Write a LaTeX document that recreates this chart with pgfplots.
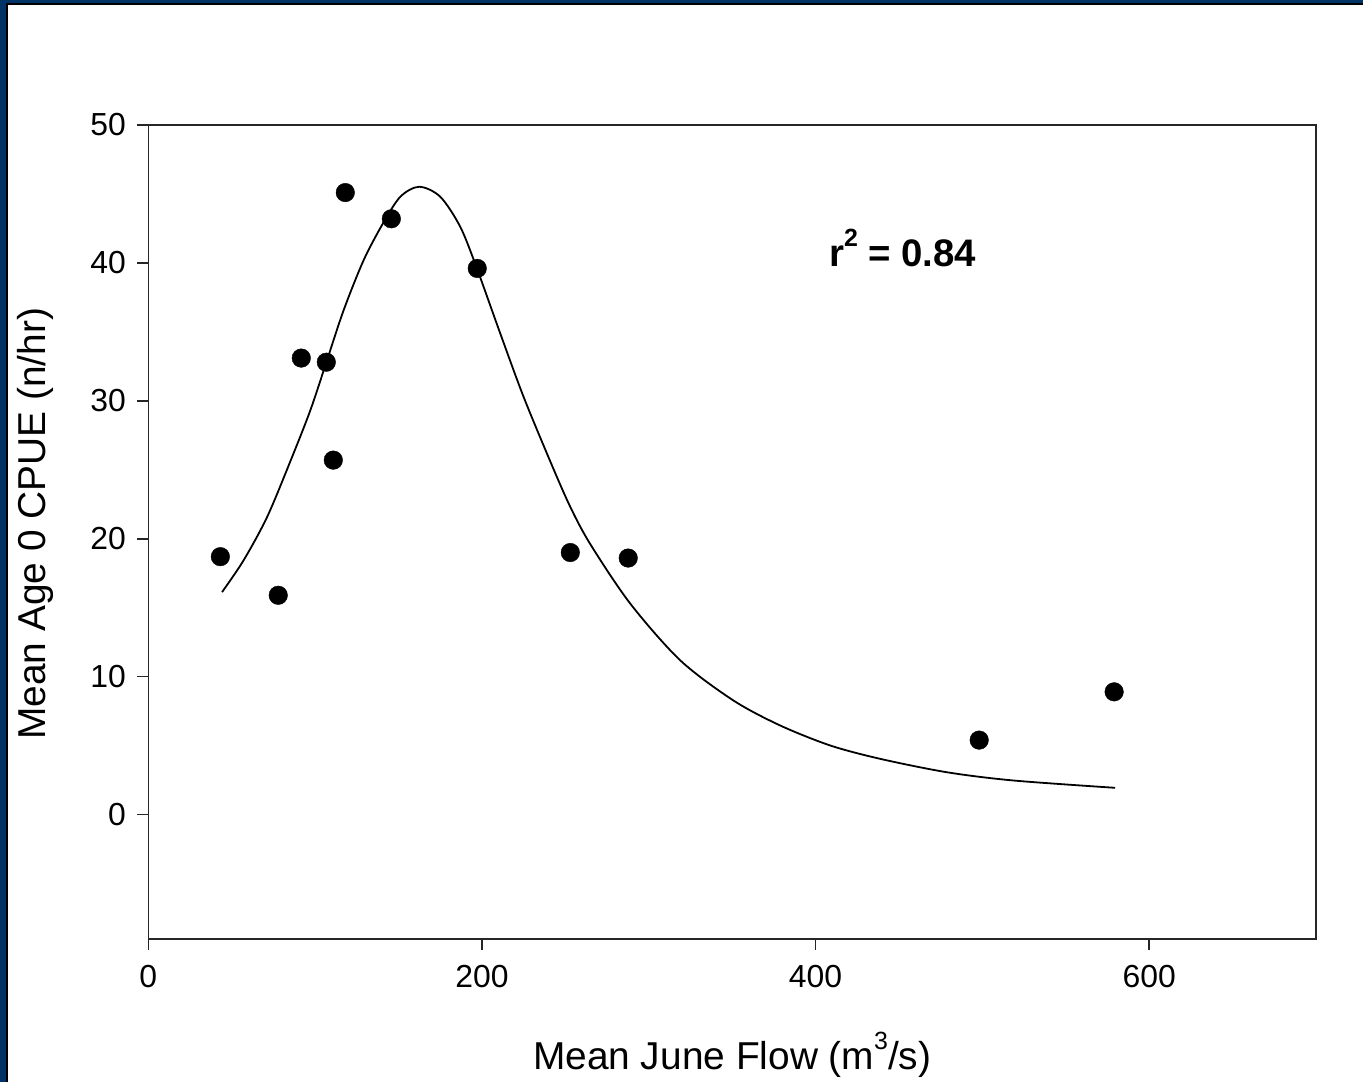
\documentclass[border=0pt]{standalone}
\usepackage{fontspec}
\setmainfont{Liberation Sans}
\usepackage{pgfplots}
\pgfplotsset{compat=1.18}
\definecolor{frameblue}{RGB}{0,51,102}
\pgfplotstableread{
x y
43.2 18.7
77.9 15.9
91.7 33.1
106.7 32.8
110.9 25.7
118.1 45.1
145.7 43.2
197.2 39.6
253.0 19.0
287.7 18.6
498.1 5.4
579.0 8.9
}\obsdata
\pgfplotstableread{
x y
44.2 16.13
57.1 18.43
71.2 21.57
85.1 25.60
97.1 29.30
106.7 32.78
117.1 36.57
129.1 40.20
140.7 42.87
151.1 44.80
162.4 45.52
175.0 44.80
187.0 42.62
197.0 39.60
211.0 34.88
225.0 30.28
241.0 25.60
253.0 22.30
265.0 19.60
288.9 15.30
318.9 11.18
350.8 8.27
378.8 6.46
408.8 5.01
438.8 4.04
478.7 3.07
518.7 2.47
579.6 1.94
}\fitdata
\newcommand{\mysup}[2]{\raisebox{0.52em}{\fontsize{#1}{#1}\selectfont #2}}
\begin{document}
\begin{tikzpicture}[x=1bp,y=1bp]
\useasboundingbox (0,0) rectangle (1363,1082);
\fill[frameblue] (0,0) rectangle (1363,1082);
\fill[black] (6,0) rectangle (1363,1079);
\fill[white] (8,0) rectangle (1363,1077);
\begin{axis}[
  at={(148.3bp,143.3bp)}, anchor=south west,
  width=1167.7bp, height=813.7bp, scale only axis,
  xmin=0, xmax=700, ymin=-9, ymax=50,
  xtick={0,200,400,600}, ytick={0,10,20,30,40,50},
  xtick pos=left, ytick pos=left,
  tick align=outside, major tick length=11bp,
  axis line style={line width=1.6bp, black!85},
  every tick/.style={line width=1.6bp, black!85},
  ticklabel style={font=\fontsize{32}{38}\selectfont},
  /pgf/number format/assume math mode=true,
  xticklabel style={yshift=-12bp},
  yticklabel style={xshift=-8bp},
  xlabel={Mean June Flow (m\mysup{25}{3}/s)},
  ylabel={Mean Age 0 CPUE (n/hr)},
  label style={font=\fontsize{39}{46}\selectfont},
  xlabel style={at={(axis description cs:0.5,-0.1428)}, anchor=center},
  ylabel style={at={(axis description cs:-0.097,0.51)}, anchor=center},
  clip=false,
]
\addplot[line width=1.8bp, black, smooth, tension=0.5, no marks] table {\fitdata};
\addplot[only marks, mark=*, mark size=9.3bp, black] table {\obsdata};
\node[anchor=west, font=\bfseries\fontsize{38.5}{46}\selectfont] at (axis cs:406,41.05) {r\mysup{25}{2} = 0.84};
\end{axis}
\end{tikzpicture}
\end{document}
